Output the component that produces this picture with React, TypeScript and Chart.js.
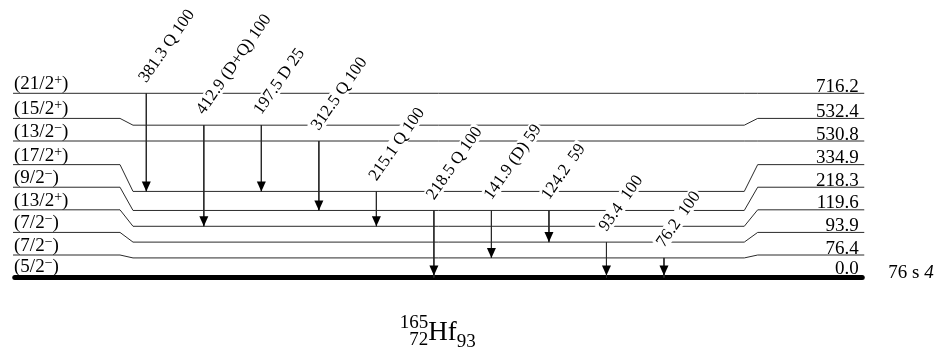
import React, { useEffect, useRef } from "react";
import { Chart, registerables } from "chart.js";

Chart.register(...registerables);

// ---------- data ----------
const levelEnergies = [0.0, 76.4, 93.9, 119.6, 218.3, 334.9, 530.8, 532.4, 716.2];
const levelSpins = ["5/2", "7/2", "7/2", "13/2", "9/2", "17/2", "13/2", "15/2", "21/2"];
const levelParities = ["−", "−", "−", "+", "−", "+", "−", "+", "+"];

const gammaEnergies = [381.3, 412.9, 197.5, 312.5, 215.1, 218.5, 141.9, 124.2, 93.4, 76.2];
const gammaMults = ["Q", "(D+Q)", "D", "Q", "Q", "Q", "(D)", "", "", ""];
const gammaIntensities = [100, 100, 25, 100, 100, 100, 59, 59, 100, 100];
const gammaFromLevel = [716.2, 532.4, 532.4, 530.8, 334.9, 218.3, 218.3, 218.3, 93.9, 76.4];
const gammaToLevel = [334.9, 119.6, 334.9, 218.3, 119.6, 0.0, 76.4, 93.9, 0.0, 0.0];

const groundHalfLife = "76 s";
const groundHalfLifeUnc = "4";
const nucleusSymbol = "Hf";
const nucleusA = "165";
const nucleusZ = "72";
const nucleusN = "93";

// ---------- layout (style) constants ----------
const MIN_LEVEL_GAP_KEV = 61.5; // minimum separation of drawn levels
const MIN_LABEL_GAP_KEV = 87.8; // minimum separation of level labels
const COL = {
  lineStart: -2.317,
  slantL0: -0.457,
  slantL1: -0.231,
  slantR0: 10.396,
  slantR1: 10.629,
  lineEnd: 12.482,
};
const X_RANGE = { min: -2.5435, max: 13.764 };
const Y_RANGE = { min: -304.7, max: 1078.8 };
const SERIF = '"Liberation Serif", "Times New Roman", serif';
const LINE_COLOR = "#2a2a2a";
const LABEL_ANGLE = 55;

// layout of drawn level heights (keV units)
const drawnY: number[] = [];
const labelY: number[] = [];
levelEnergies.forEach((e, i) => {
  drawnY[i] = i === 0 ? e : Math.max(e, drawnY[i - 1] + MIN_LEVEL_GAP_KEV);
  labelY[i] = i === 0 ? drawnY[i] : Math.max(drawnY[i], labelY[i - 1] + MIN_LABEL_GAP_KEV);
});
const levelIndex = (e: number) => levelEnergies.indexOf(e);

export default function App() {
  const ref = useRef<HTMLCanvasElement>(null);

  useEffect(() => {
    const canvas = ref.current;
    if (!canvas) return;

    const datasets: any[] = [];
    levelEnergies.forEach((e, i) => {
      const isGround = i === 0;
      const ly = labelY[i];
      const dy = drawnY[i];
      datasets.push({
        type: "scatter",
        showLine: true,
        data: isGround
          ? [
              { x: COL.lineStart + 0.03, y: dy },
              { x: COL.lineEnd - 0.035, y: dy },
            ]
          : [
              { x: COL.lineStart, y: ly },
              { x: COL.slantL0, y: ly },
              { x: COL.slantL1, y: dy },
              { x: COL.slantR0, y: dy },
              { x: COL.slantR1, y: ly },
              { x: COL.lineEnd, y: ly },
            ],
        borderColor: isGround ? "#000" : LINE_COLOR,
        borderWidth: isGround ? 5 : 1,
        borderCapStyle: isGround ? "round" : "butt",
        pointRadius: 0,
        tension: 0,
        order: 2,
      });
    });
    gammaEnergies.forEach((g, k) => {
      const from = drawnY[levelIndex(gammaFromLevel[k])];
      const to = drawnY[levelIndex(gammaToLevel[k])];
      datasets.push({
        type: "scatter",
        showLine: true,
        data: [
          { x: k, y: from },
          { x: k, y: to },
        ],
        borderColor: LINE_COLOR,
        borderWidth: 1,
        pointRadius: 0,
        order: 1,
      });
    });

    const schemePlugin = {
      id: "scheme",
      afterDatasetsDraw(chart: any) {
        const ctx = chart.ctx as CanvasRenderingContext2D;
        const xs = chart.scales.x;
        const ys = chart.scales.y;
        ctx.save();

        // arrow heads
        gammaEnergies.forEach((g, k) => {
          const px = xs.getPixelForValue(k);
          const toIdx = levelIndex(gammaToLevel[k]);
          let py = ys.getPixelForValue(drawnY[toIdx]);
          if (toIdx === 0) py -= 2;
          ctx.fillStyle = "#000";
          ctx.beginPath();
          ctx.moveTo(px - 4.5, py - 10);
          ctx.lineTo(px + 4.5, py - 10);
          ctx.lineTo(px, py);
          ctx.closePath();
          ctx.fill();
        });

        // gamma labels
        ctx.font = `17px ${SERIF}`;
        ctx.textBaseline = "alphabetic";
        ctx.textAlign = "left";
        gammaEnergies.forEach((g, k) => {
          const text = `${g.toFixed(1)} ${gammaMults[k]} ${gammaIntensities[k]}`;
          const px = xs.getPixelForValue(k);
          const py = ys.getPixelForValue(drawnY[levelIndex(gammaFromLevel[k])]);
          const w = ctx.measureText(text).width;
          ctx.save();
          ctx.translate(px, py - 10);
          ctx.rotate((-LABEL_ANGLE * Math.PI) / 180);
          ctx.fillStyle = "#fff";
          ctx.fillRect(-2, -13, w + 4, 16);
          ctx.fillStyle = "#000";
          ctx.fillText(text, 0, 0);
          ctx.restore();
        });

        // level labels
        const xLeft = xs.getPixelForValue(COL.lineStart) + 1;
        const xRight = xs.getPixelForValue(COL.lineEnd) - 5.5;
        levelEnergies.forEach((e, i) => {
          const extra = i === 0 ? 2 : 0;
          const lyPix = ys.getPixelForValue(labelY[i]);
          let x = xLeft;
          const base = lyPix - 4 - extra;
          ctx.fillStyle = "#000";
          ctx.textAlign = "left";
          ctx.font = `19px ${SERIF}`;
          const main = `(${levelSpins[i]}`;
          ctx.fillText(main, x, base);
          x += ctx.measureText(main).width;
          ctx.font = `14px ${SERIF}`;
          ctx.fillText(levelParities[i], x, base - 5);
          x += ctx.measureText(levelParities[i]).width;
          ctx.font = `19px ${SERIF}`;
          ctx.fillText(")", x, base);
          ctx.textAlign = "right";
          ctx.fillText(e.toFixed(1), xRight, lyPix - 1.5 - extra);
        });

        // half-life of ground state
        const gy = ys.getPixelForValue(drawnY[0]);
        const hx = xs.getPixelForValue(COL.lineEnd) + 24;
        ctx.textAlign = "left";
        ctx.font = `19px ${SERIF}`;
        const hl = `${groundHalfLife} `;
        ctx.fillText(hl, hx, gy);
        const hw = ctx.measureText(hl).width;
        ctx.font = `italic 19px ${SERIF}`;
        ctx.fillText(groundHalfLifeUnc, hx + hw, gy);

        // nucleus title
        ctx.font = `19px ${SERIF}`;
        const supW = Math.max(ctx.measureText(nucleusA).width, ctx.measureText(nucleusZ).width);
        const nW = ctx.measureText(nucleusN).width;
        ctx.font = `27px ${SERIF}`;
        const symW = ctx.measureText(nucleusSymbol).width;
        const total = supW + symW + nW;
        const cx = (xs.getPixelForValue(COL.lineStart) + xs.getPixelForValue(COL.lineEnd)) / 2 - 1;
        const x0 = cx - total / 2;
        const tBase = gy + 62;
        ctx.textAlign = "left";
        ctx.fillText(nucleusSymbol, x0 + supW, tBase);
        ctx.font = `19px ${SERIF}`;
        ctx.textAlign = "right";
        ctx.fillText(nucleusA, x0 + supW, tBase - 12);
        ctx.fillText(nucleusZ, x0 + supW, tBase + 5.5);
        ctx.textAlign = "left";
        ctx.fillText(nucleusN, x0 + supW + symW, tBase + 7);

        ctx.restore();
      },
    };

    const chart = new Chart(canvas, {
      type: "scatter",
      data: { datasets },
      options: {
        responsive: false,
        animation: false,
        devicePixelRatio: 1,
        layout: { padding: 0 },
        plugins: { legend: { display: false }, tooltip: { enabled: false }, title: { display: false } },
        events: [],
        scales: {
          x: { type: "linear", display: false, min: X_RANGE.min, max: X_RANGE.max },
          y: { type: "linear", display: false, min: Y_RANGE.min, max: Y_RANGE.max },
        },
      },
      plugins: [schemePlugin],
    } as any);

    return () => chart.destroy();
  }, []);

  return (
    <div style={{ position: "fixed", left: 0, top: 0, width: 938, height: 356, background: "#fff" }}>
      <canvas ref={ref} width={938} height={356} style={{ display: "block", width: 938, height: 356 }} />
    </div>
  );
}
